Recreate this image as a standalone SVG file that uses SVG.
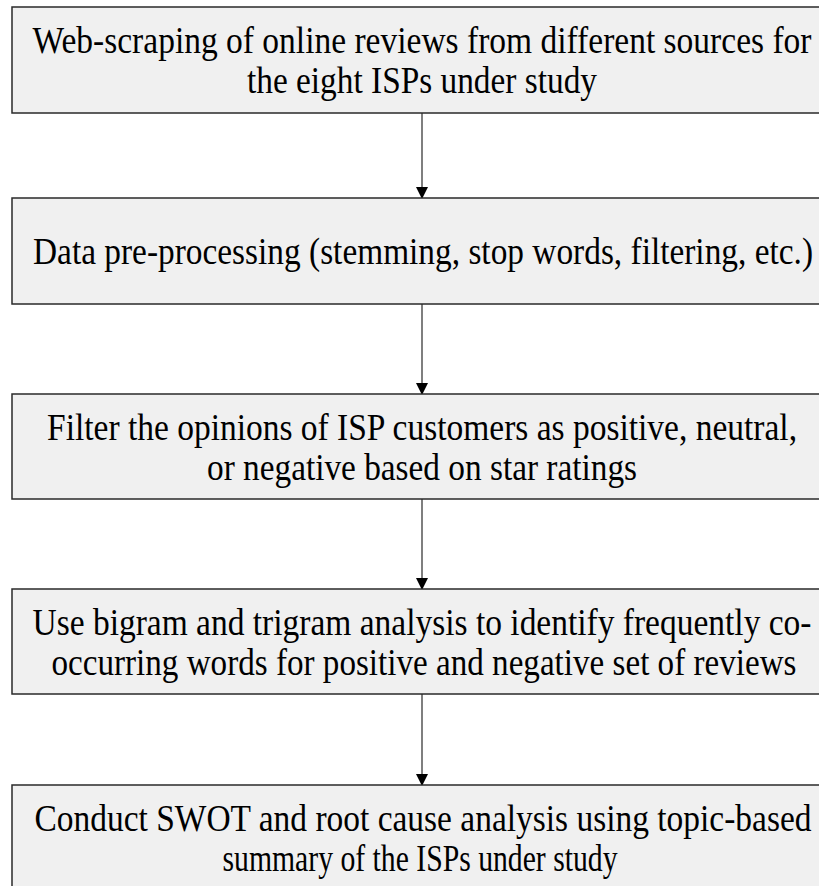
<svg xmlns="http://www.w3.org/2000/svg" width="819" height="886" viewBox="0 0 819 886">
<style>
.box{fill:#f0f0f0;stroke:#2a2a2a;stroke-width:1.5}
.t{font-family:"Liberation Serif","Times New Roman",serif;font-size:33.5px;fill:#000;text-anchor:middle}
.c{stroke:#555;stroke-width:1.5;fill:none}
</style>
<defs>
<marker id="ah" markerWidth="12" markerHeight="12" refX="11" refY="6" orient="auto" markerUnits="userSpaceOnUse">
<path d="M0,0 L12,6 L0,12 Z" fill="#000"/>
</marker>
</defs>
<rect width="819" height="886" fill="#fff"/>
<g id="connectors">
<line class="c" x1="422" y1="113" x2="422" y2="198" marker-end="url(#ah)"/>
<line class="c" x1="422" y1="304" x2="422" y2="394" marker-end="url(#ah)"/>
<line class="c" x1="422" y1="499" x2="422" y2="589" marker-end="url(#ah)"/>
<line class="c" x1="422" y1="694" x2="422" y2="785" marker-end="url(#ah)"/>
</g>
<g id="n1">
<rect class="box" x="12" y="7" width="820" height="106"/>
<text class="t" transform="translate(422,53) scale(1,1.1)" textLength="779" lengthAdjust="spacingAndGlyphs">Web-scraping of online reviews from different sources for</text>
<text class="t" transform="translate(422,93) scale(1,1.1)" textLength="350" lengthAdjust="spacingAndGlyphs">the eight ISPs under study</text>
</g>
<g id="n2">
<rect class="box" x="12" y="198" width="820" height="106"/>
<text class="t" transform="translate(423,264) scale(1,1.1)" textLength="780" lengthAdjust="spacingAndGlyphs">Data pre-processing (stemming, stop words, filtering, etc.)</text>
</g>
<g id="n3">
<rect class="box" x="12" y="394" width="820" height="105"/>
<text class="t" transform="translate(422,440) scale(1,1.1)" textLength="750" lengthAdjust="spacingAndGlyphs">Filter the opinions of ISP customers as positive, neutral,</text>
<text class="t" transform="translate(422,480) scale(1,1.1)" textLength="430" lengthAdjust="spacingAndGlyphs">or negative based on star ratings</text>
</g>
<g id="n4">
<rect class="box" x="12" y="589" width="820" height="105"/>
<text class="t" transform="translate(422,635) scale(1,1.1)" textLength="779" lengthAdjust="spacingAndGlyphs">Use bigram and trigram analysis to identify frequently co-</text>
<text class="t" transform="translate(424,675) scale(1,1.1)" textLength="745" lengthAdjust="spacingAndGlyphs">occurring words for positive and negative set of reviews</text>
</g>
<g id="n5">
<rect class="box" x="12" y="785" width="820" height="106"/>
<text class="t" transform="translate(423,831) scale(1,1.1)" textLength="777" lengthAdjust="spacingAndGlyphs">Conduct SWOT and root cause analysis using topic-based</text>
<text class="t" transform="translate(420,871) scale(1,1.1)" textLength="395" lengthAdjust="spacingAndGlyphs">summary of the ISPs under study</text>
</g>
</svg>
